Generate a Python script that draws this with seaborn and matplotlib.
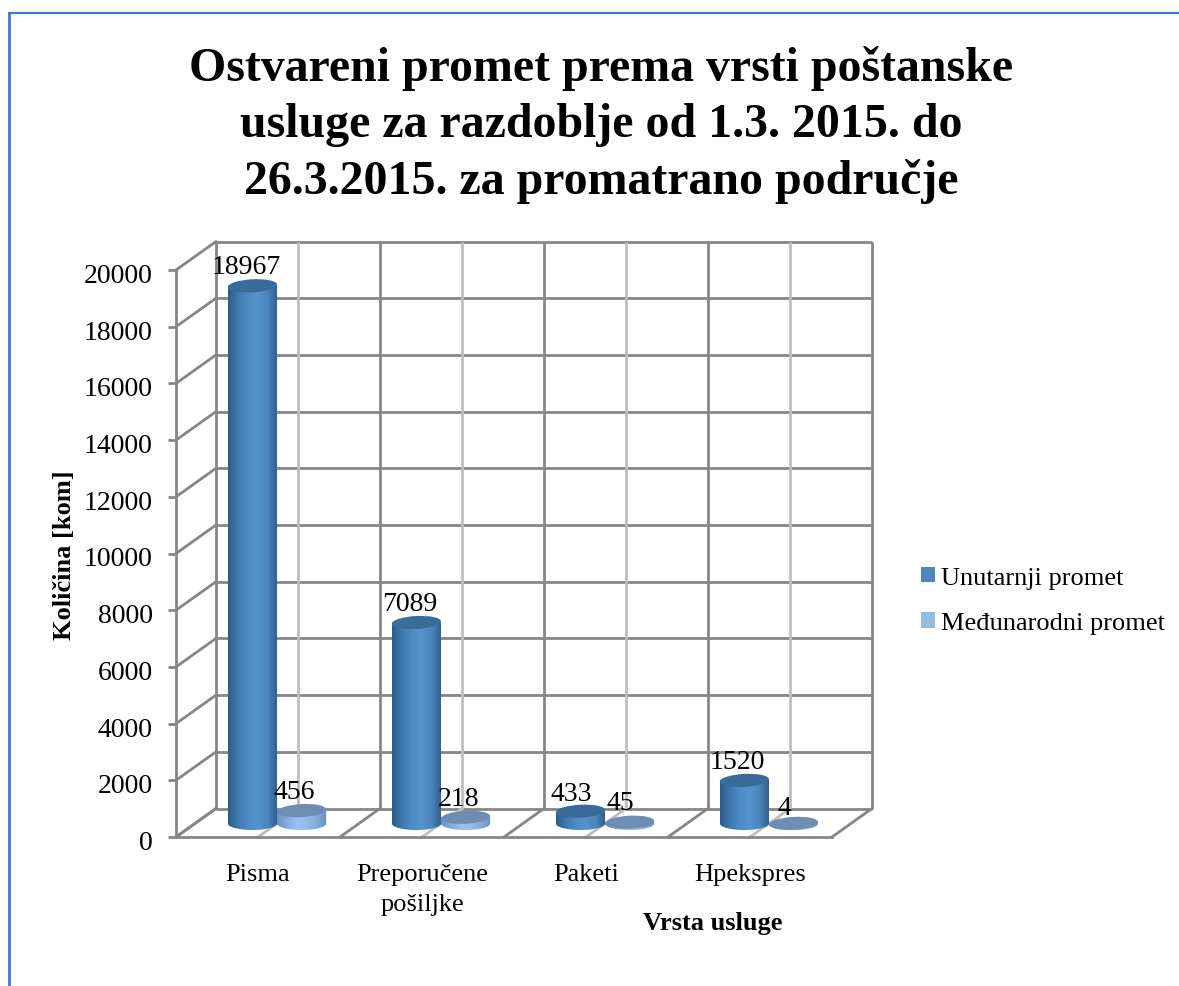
import numpy as np
import pandas as pd
import matplotlib
matplotlib.use("Agg")
import matplotlib.pyplot as plt
import seaborn as sns
from matplotlib.colors import LinearSegmentedColormap
from matplotlib.lines import Line2D
from matplotlib.patches import Ellipse, Patch, PathPatch
from matplotlib.path import Path
from matplotlib.transforms import Affine2D, IdentityTransform

categories = ["Pisma", "Preporučene\npošiljke", "Paketi", "Hpekspres"]
series_names = ["Unutarnji promet", "Međunarodni promet"]
unutarnji = [18967, 7089, 433, 1520]
medunarodni = [456, 218, 45, 4]
y_ticks = [0, 2000, 4000, 6000, 8000, 10000, 12000, 14000, 16000, 18000, 20000]
title_text = ("Ostvareni promet prema vrsti poštanske\n"
              "usluge za razdoblje od 1.3. 2015. do\n"
              "26.3.2015. za promatrano područje")

W, H = 1179, 987
sns.set_style("white")
plt.rcParams["font.family"] = ["Liberation Serif", "DejaVu Serif"]
plt.rcParams["text.color"] = "black"
plt.rcParams["xtick.labelcolor"] = "black"
plt.rcParams["ytick.labelcolor"] = "black"

DARK = "#868686"
LIGHT = "#BEBEBE"
LW = 2.0

df = pd.DataFrame({
    "usluga": categories * 2,
    "vrsta": [series_names[0]] * 4 + [series_names[1]] * 4,
    "kolicina": unutarnji + medunarodni,
})

fig = plt.figure(figsize=(W / 100, H / 100), dpi=100, facecolor="white")
ax = fig.add_axes([176 / W, 1 - 838 / H, (832 - 176) / W, (838 - 271) / H])
ax.set_facecolor("none")

sns.barplot(data=df, x="usluga", y="kolicina", hue="vrsta", hue_order=series_names,
            palette=["#4F8BC4", "#8FB6E6"], saturation=1, width=0.6, gap=0,
            legend=False, ax=ax, zorder=3, linewidth=0)
ax.set_xlim(-0.5, 3.5)
ax.set_ylim(0, 20000)
ax.set_autoscale_on(False)
ax.set_yticks(y_ticks)
ax.tick_params(axis="y", length=5.8, width=LW, color=DARK, pad=11, labelsize=20, left=True)
ax.tick_params(axis="x", length=0, pad=19, labelsize=19)
ax.set_xticks(range(len(categories)))
ax.set_xticklabels(categories, linespacing=1.42)
for lab in ax.get_yticklabels():
    lab.set_transform(lab.get_transform() + Affine2D().translate(0, -2.5))
ax.set_xlabel("")
ax.set_ylabel("")
for s in ("top", "right"):
    ax.spines[s].set_visible(False)
for s in ("left", "bottom"):
    ax.spines[s].set_color(DARK)
    ax.spines[s].set_linewidth(LW)

# 3-D box: back wall is the same scale shifted in display space
back = ax.transData + Affine2D().translate(40, 28.5)
mid = ax.transData + Affine2D().translate(19, 13.5)
xs_dark = np.arange(-0.5, 4.0, 1)
xs_light = np.arange(0, 4, 1)
ax.hlines(y_ticks, -0.5, 3.5, colors=DARK, lw=LW, transform=back, clip_on=False, zorder=1)
ax.vlines(xs_light, 0, 20000, colors=LIGHT, lw=LW, transform=back, clip_on=False, zorder=1)
ax.vlines(xs_dark, 0, 20000, colors=DARK, lw=LW, transform=back, clip_on=False, zorder=1.1)


def diagonal(x, y, color):
    p0 = ax.transData.transform((x, y))
    p1 = back.transform((x, y))
    ax.add_artist(Line2D([p0[0], p1[0]], [p0[1], p1[1]], color=color, lw=LW,
                         transform=IdentityTransform(), zorder=1, clip_on=False))


for t in y_ticks:
    diagonal(-0.5, t, DARK)
for x in xs_dark:
    diagonal(x, 0, DARK)
for x in xs_light:
    diagonal(x, 0, LIGHT)

gradients = [
    (["#2F5C86", "#3F79AE", "#4F8CC6", "#5593CD", "#4A85BC", "#2F5C86"], "#3A6C9A"),
    (["#6C92C2", "#86ACDC", "#9AC0F0", "#96BCEC", "#86A9D6", "#6C8FBC"], "#6F8DB2"),
]
nudges = {18967: (-6, 19), 456: (-7, 19), 433: (-9, 18), 45: (-9, 20), 4: (-9, 16)}
EH = 13  # ellipse height in pixels

for container, (stops, top_col) in zip(ax.containers, gradients):
    cmap = LinearSegmentedColormap.from_list("cyl", stops)
    for bar in container:
        bar.set_transform(mid)
        x0, w, v = bar.get_x(), bar.get_width(), bar.get_height()
        (px0, py0) = mid.transform((x0, 0))
        (px1, py1) = mid.transform((x0 + w, v))
        cx, a, b = (px0 + px1) / 2, (px1 - px0) / 2, EH / 2
        th = np.linspace(np.pi, 2 * np.pi, 60)
        verts = np.column_stack([cx + a * np.cos(th), py0 + b * np.sin(th)])
        verts = np.vstack([verts, [px1, py1], [px0, py1], [px0, py0]])
        clip = PathPatch(Path(verts), transform=IdentityTransform())
        im = ax.imshow(np.linspace(0, 1, 128)[None, :], cmap=cmap, aspect="auto",
                       extent=(px0, px1, py0 - b, py1 + b), transform=IdentityTransform(),
                       zorder=3.5)
        im.set_clip_path(clip)
        ax.add_artist(Ellipse((cx, py1), 2 * a, EH, angle=3, facecolor=top_col, edgecolor="none",
                              transform=IdentityTransform(), zorder=4, clip_on=False))
        dx, dy = nudges.get(int(v), (-7, 19))
        ax.annotate(str(int(v)), xy=(cx, py1), xycoords=IdentityTransform(), xytext=(dx, dy),
                    textcoords="offset pixels", ha="center", va="center", fontsize=20,
                    color="black", zorder=6, annotation_clip=False)

ax.set_xlim(-0.5, 3.5)
ax.set_ylim(0, 20000)

fig.text(601 / W, 1 - 125 / H, title_text, ha="center", va="center", fontsize=34.5,
         fontweight="bold", linespacing=1.34, color="black")
fig.text(65 / W, 1 - 555 / H, "Količina [kom]", rotation=90, ha="center", va="center",
         fontsize=19, fontweight="bold")
fig.text(713 / W, 1 - 923.5 / H, "Vrsta usluge", ha="center", va="center",
         fontsize=19, fontweight="bold")

handles = [Patch(facecolor="#4F86BD", edgecolor="none"), Patch(facecolor="#95B9E1", edgecolor="none")]
fig.legend(handles, series_names, loc="center left", bbox_to_anchor=(916 / W, 1 - 601.5 / H),
           frameon=False, fontsize=19, handlelength=0.53, handleheight=0.53,
           handletextpad=0.23, labelspacing=0.88, borderpad=0.2, borderaxespad=0)

BORDER = "#4A76C6"
fig.add_artist(Line2D([9 / W, 1], [1 - 14 / H, 1 - 14 / H], color=BORDER, lw=1.6,
                      transform=fig.transFigure))
fig.add_artist(Line2D([9 / W, 9 / W], [0, 1 - 14 / H], color=BORDER, lw=2,
                      transform=fig.transFigure))

fig.savefig("out.png", dpi=100, facecolor="white")
